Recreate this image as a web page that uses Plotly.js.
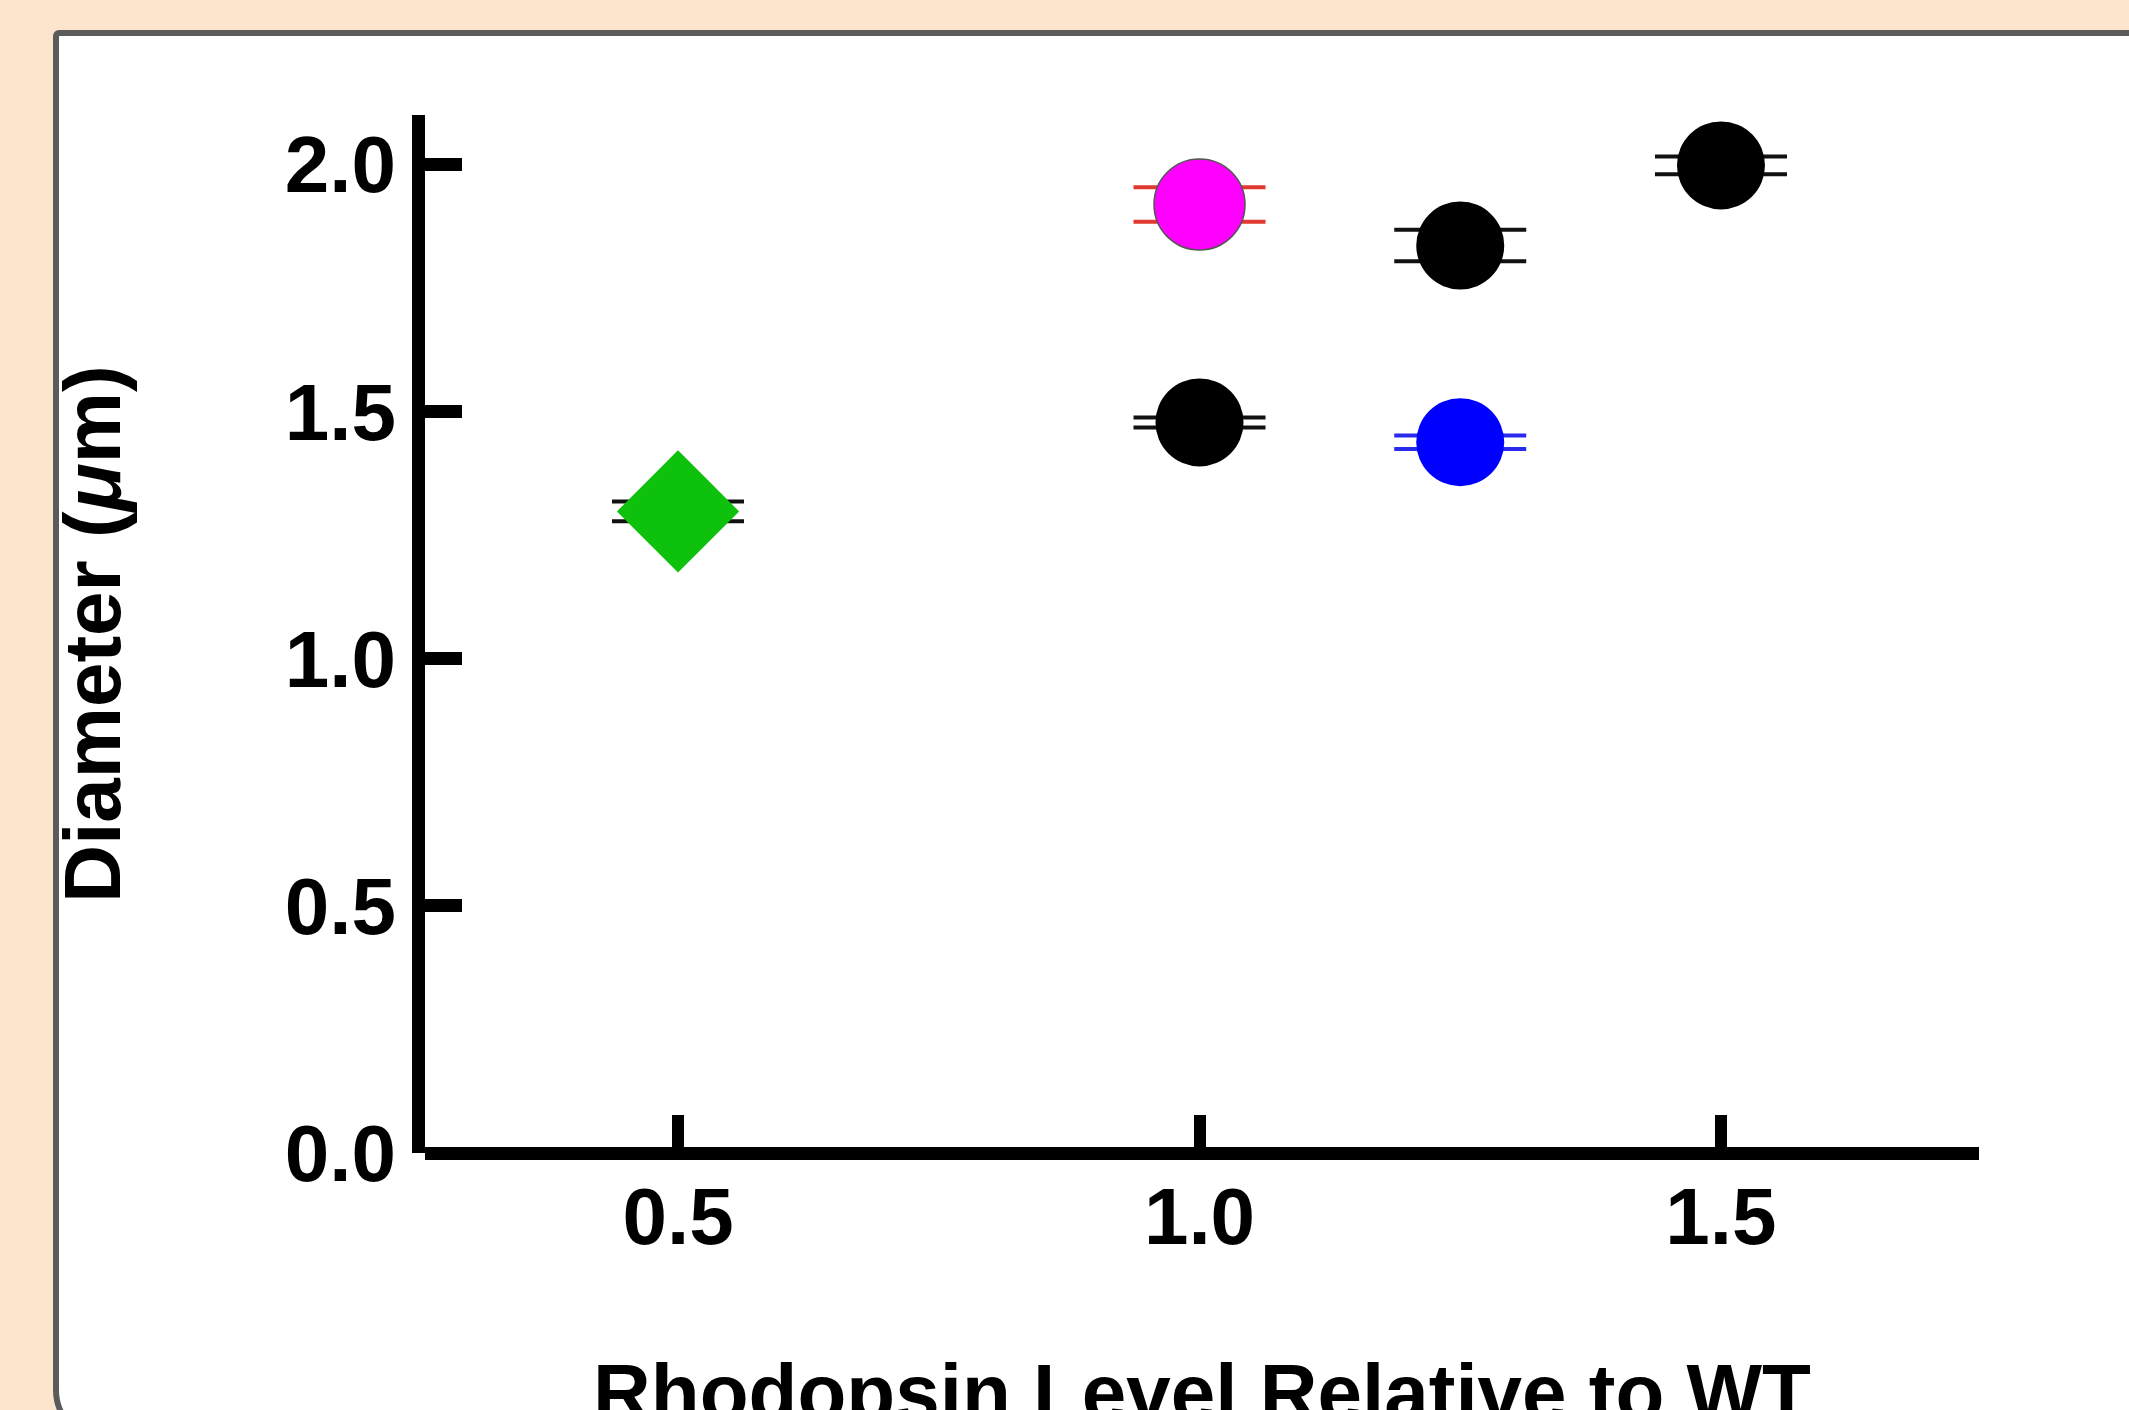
<!DOCTYPE html>
<html>
<head>
<meta charset="utf-8">
<script src="https://cdn.plot.ly/plotly-3.0.1.min.js"></script>
<style>
  html, body { margin: 0; padding: 0; width: 2129px; height: 1410px; overflow: hidden; background: #fde5cd; }
  #frame { position: absolute; left: 53px; top: 30px; width: 2200px; height: 1412px; box-sizing: border-box;
           border: 6px solid #5b5b5b; border-radius: 6px 6px 6px 52px; background: #ffffff; }
  #chart { position: absolute; left: 0; top: 0; width: 2129px; height: 1460px; }
</style>
</head>
<body>
<div id="frame"></div>
<div id="chart"></div>
<script>
// ---- data ----
const pointX     = [0.5, 1.0, 1.0, 1.25, 1.25, 1.5];
const pointY     = [1.298, 1.919, 1.478, 1.836, 1.438, 1.998];
const pointErr   = [0.020, 0.035, 0.010, 0.032, 0.0135, 0.018];
const pointGroup = ['green', 'magenta', 'black', 'black', 'blue', 'black'];

const xTickVals  = [0.5, 1.0, 1.5];
const xTickText  = ['0.5', '1.0', '1.5'];
const yTickVals  = [0, 0.5, 1.0, 1.5, 2.0];
const yTickText  = ['0.0', '0.5', '1.0', '1.5', '2.0'];

const xTitle = 'Rhodopsin Level Relative to WT';
const yTitle = 'Diameter (<i>μ</i>m)';

// ---- styles per group ----
const groupStyle = {
  green:   {symbol: 'diamond', size: 94, color: '#0dc10d', lineColor: '#0dc10d', lineWidth: 0, err: '#111111'},
  magenta: {symbol: 'circle',  size: 91, color: '#ff00ff', lineColor: '#555555', lineWidth: 1.5, err: '#e03a2e'},
  black:   {symbol: 'circle',  size: 88, color: '#000000', lineColor: '#000000', lineWidth: 0, err: '#111111'},
  blue:    {symbol: 'circle',  size: 88, color: '#0000ff', lineColor: '#0000ff', lineWidth: 0, err: '#2a2aee'}
};

const groupOrder = ['green', 'black', 'blue', 'magenta'];
const traces = groupOrder.map(g => {
  const idx = pointGroup.map((v, i) => v === g ? i : -1).filter(i => i >= 0);
  const st = groupStyle[g];
  return {
    type: 'scatter', mode: 'markers', name: g,
    x: idx.map(i => pointX[i]),
    y: idx.map(i => pointY[i]),
    error_y: {type: 'data', array: idx.map(i => pointErr[i]), visible: true,
              color: st.err, thickness: 4, width: 66},
    marker: {symbol: st.symbol, size: st.size, color: st.color,
             line: {color: st.lineColor, width: st.lineWidth}},
    cliponaxis: false, hoverinfo: 'skip'
  };
});

const font = {family: '"Liberation Sans", Arial, Helvetica, sans-serif', size: 80, color: '#000000', weight: 'bold'};

const layout = {
  width: 2129, height: 1460,
  paper_bgcolor: 'rgba(0,0,0,0)', plot_bgcolor: 'rgba(0,0,0,0)',
  margin: {l: 425, r: 150, t: 115, b: 306.5, pad: 0},
  showlegend: false,
  font: font,
  xaxis: {
    range: [0.2574, 1.7474], autorange: false,
    tickvals: xTickVals, ticktext: xTickText,
    ticks: 'inside', ticklen: 38, tickwidth: 12, tickcolor: '#000',
    ticklabelstandoff: 10,
    showline: false, showgrid: false, zeroline: false,
    tickfont: font,
    title: {text: xTitle, font: font, standoff: 103},
    automargin: false
  },
  yaxis: {
    range: [0, 2.1], autorange: false,
    tickvals: yTickVals, ticktext: yTickText,
    ticks: 'inside', ticklen: 37, tickwidth: 13, tickcolor: '#000',
    showline: true, linewidth: 13, linecolor: '#000',
    showgrid: false,
    zeroline: true, zerolinecolor: '#000', zerolinewidth: 13,
    tickfont: font,
    title: {text: yTitle, font: font, standoff: 143},
    automargin: false
  }
};

Plotly.newPlot('chart', traces, layout, {staticPlot: true, displayModeBar: false});
</script>
</body>
</html>
